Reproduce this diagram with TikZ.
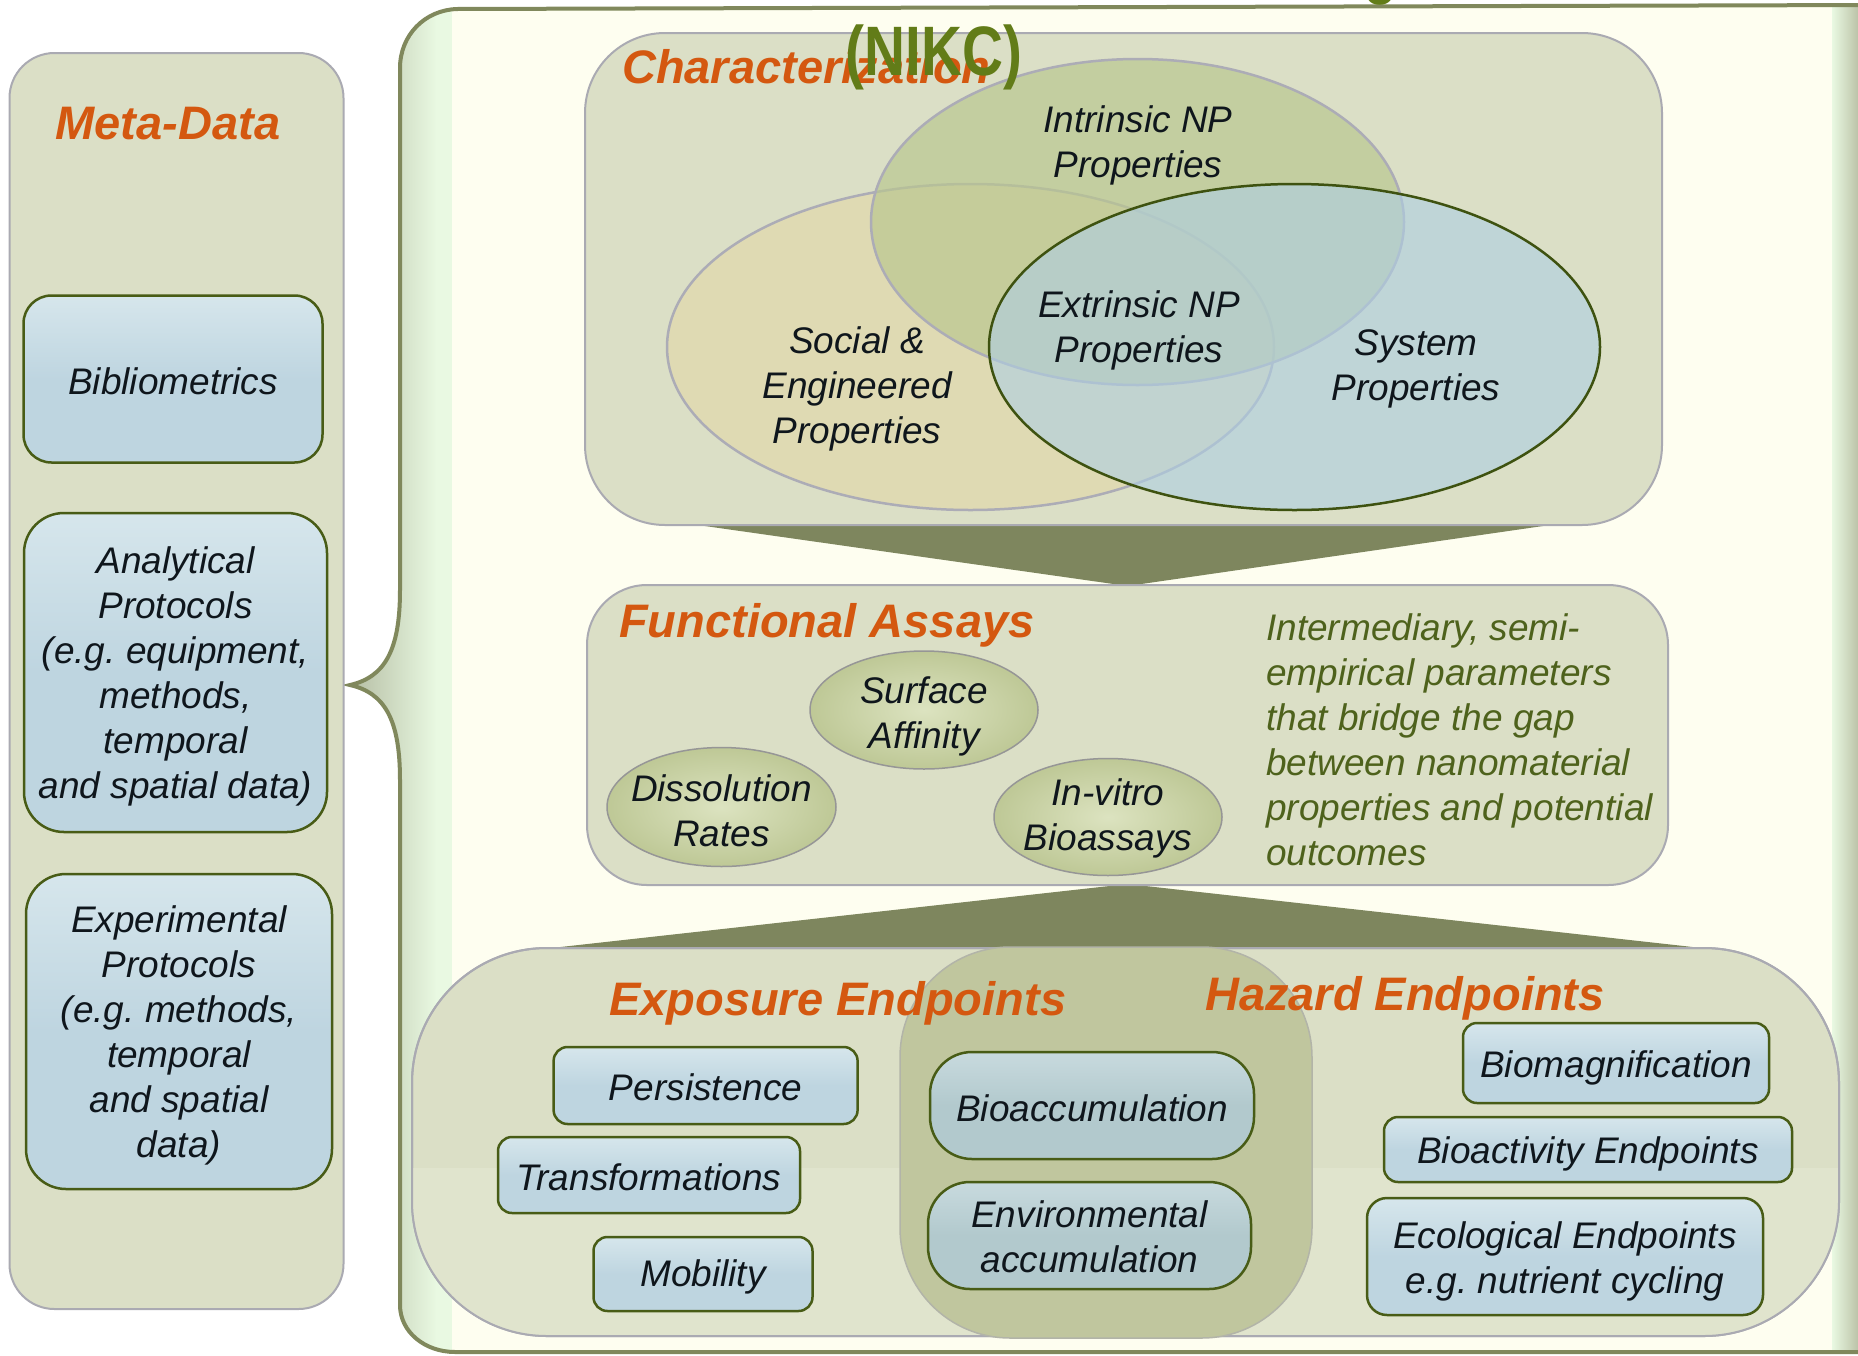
\documentclass[tikz,border=0pt]{standalone}
\usepackage{fontspec}
\usepackage{graphicx}
\setmainfont{Liberation Sans}
\frenchspacing
\usetikzlibrary{shapes.geometric,calc}
\definecolor{orng}{RGB}{212,88,16}
\definecolor{nikc}{RGB}{98,124,24}
\definecolor{desc}{RGB}{78,98,28}
\definecolor{txt}{RGB}{15,22,28}
\definecolor{panel}{RGB}{219,223,198}
\definecolor{panellow}{RGB}{224,228,205}
\definecolor{panelline}{RGB}{170,170,178}
\definecolor{boxblue}{RGB}{190,213,224}
\definecolor{boxhi}{RGB}{214,230,236}
\definecolor{bluedk}{RGB}{178,201,205}
\definecolor{bluedkhi}{RGB}{200,218,222}
\definecolor{boxline}{RGB}{72,92,22}
\definecolor{cream}{RGB}{254,254,240}
\definecolor{contline}{RGB}{128,136,92}
\definecolor{chev}{RGB}{126,134,94}
\definecolor{intr}{RGB}{186,199,144}
\definecolor{soc}{RGB}{226,216,172}
\definecolor{sys}{RGB}{175,207,227}
\definecolor{sysline}{RGB}{62,82,16}
\definecolor{vennline}{RGB}{172,172,182}
\definecolor{ellin}{RGB}{220,227,192}
\definecolor{ellout}{RGB}{190,200,150}
\definecolor{ellline}{RGB}{150,150,150}
\definecolor{pillc}{RGB}{192,198,158}
\definecolor{pillline}{RGB}{178,180,168}
\definecolor{bandgrey}{RGB}{178,186,160}
\definecolor{bandgreen}{RGB}{233,249,226}
\definecolor{rightgrey}{RGB}{188,195,168}
\newcommand\mybody{\fontsize{37}{45}\selectfont\itshape}
\newcommand\mytitle{\fontsize{47}{56}\selectfont\bfseries\itshape}
\newcommand\mynikc{\fontsize{70}{84}\selectfont\bfseries}
\newcommand\mycontpath{(455,1352) -- (1875,1352) -- (1875,5) -- (457,9) .. controls (425,10) and (400,35) .. (400,68) -- (400,590) .. controls (400,650) and (385,677) .. (350,685) .. controls (385,693) and (400,720) .. (400,780) -- (400,1305) .. controls (400,1332) and (425,1352) .. (455,1352) -- cycle}
\tikzset{
  panelbox/.style={draw=panelline, line width=2, fill=panel, inner sep=0},
  bluebox/.style={draw=boxline, line width=2.5, top color=boxhi, bottom color=boxblue, middle color=boxblue, rounded corners=14, inner sep=0},
  darkbox/.style={bluebox, top color=bluedkhi, bottom color=bluedk, middle color=bluedk, rounded corners=42},
  lbl/.style={font=\mybody, text=txt, align=center, inner sep=0},
  ttl/.style={font=\mytitle, text=orng, inner sep=0},
  vennell/.style={ellipse, inner sep=0, line width=2.5},
  smallell/.style={ellipse, inner sep=0, draw=ellline, line width=1.5, inner color=ellin, outer color=ellout},
  chevron/.style={fill=chev}
}
\begin{document}
\begin{tikzpicture}[x=1pt,y=-1pt]
\useasboundingbox (0,0) rectangle (1858,1355);
\fill[white] (0,0) rectangle (1858,1355);
% main container
\fill[cream] \mycontpath;
\begin{scope}
  \clip \mycontpath;
  \shade[left color=bandgrey, right color=bandgreen] (345,0) rectangle (437,1360);
  \fill[bandgreen] (436,0) rectangle (452,1360);
  \shade[left color=bandgreen, right color=rightgrey] (1832,0) rectangle (1858,1360);
\end{scope}
\draw[contline, line width=4] \mycontpath;

% meta-data panel
\node[panelbox, rounded corners=45, minimum width=334, minimum height=1256] (meta) at (176.5,681) {};
\node[ttl, anchor=base] (metat) at (168,139) {Meta-Data};
\node[bluebox, rounded corners=28, minimum width=299, minimum height=167] (biblio) at (173,379) {};
\node[lbl] (bibliot) at ($(biblio.center)+(0,2)$) {Bibliometrics};
\node[bluebox, rounded corners=40, minimum width=303, minimum height=319] (anal) at (175.5,672.5) {};
\node[lbl] (analt) at ($(anal.center)+(0,4)$) {Analytical\\Protocols\\(e.g. equipment,\\methods,\\temporal\\and spatial data)};
\node[bluebox, rounded corners=40, minimum width=306, minimum height=315] (exper) at (179,1031.5) {};
\node[lbl] (expert) at ($(exper.center)+(0,4)$) {Experimental\\Protocols\\(e.g. methods,\\temporal\\and spatial\\data)};

% panels (positions)
\coordinate (charc) at (1123.5,279);
\coordinate (funcc) at (1127.5,735);
\coordinate (endpc) at (1125.5,1142);

% chevrons
\path (charc) ++(0,246) coordinate (charS);
\path (funcc) ++(0,-150) coordinate (funcN);
\path (funcc) ++(0,150) coordinate (funcS);
\path (endpc) ++(0,-194) coordinate (endpN);
\fill[chevron] ($(charS)+(-468,-6)$) -- ($(charS)+(468,-6)$) -- ($(funcN)+(0,1)$) -- cycle;
\fill[chevron] ($(funcS)+(0,-1)$) -- ($(endpN)+(594,2)$) -- ($(endpN)+(-592,2)$) -- cycle;

% characterization
\node[panelbox, rounded corners=80, minimum width=1077, minimum height=492] (char) at (charc) {};
\node[vennell, fill=soc, fill opacity=0.7, draw=vennline, minimum width=607, minimum height=326] (soce) at (970.5,347) {};
\node[vennell, fill=intr, fill opacity=0.7, draw=vennline, minimum width=533, minimum height=326] (intre) at (1137.5,222) {};
\node[vennell, fill=sys, fill opacity=0.62, draw=sysline, minimum width=611, minimum height=326] (syse) at (1294.5,347) {};
\node[lbl] (intrt) at (1138,145) {Intrinsic NP\\Properties};
\node[lbl] (extrt) at (1139,330) {Extrinsic NP\\Properties};
\node[lbl] (soct) at (857,389) {Social \&\\Engineered\\Properties};
\node[lbl] (syst) at (1416,369) {System\\Properties};
\node[ttl, anchor=base west] (chart) at (622,83) {Characterization};

% functional assays
\node[panelbox, rounded corners=60, minimum width=1081, minimum height=300] (func) at (funcc) {};
\node[ttl, anchor=base west] (funct) at (619,637) {Functional Assays};
\node[smallell, minimum width=228, minimum height=118] (surf) at (924,710) {};
\node[lbl] (surft) at ($(surf.center)+(0,6)$) {Surface\\Affinity};
\node[smallell, minimum width=229, minimum height=119] (diss) at (721.5,807) {};
\node[lbl] (disst) at ($(diss.center)+(0,4)$) {Dissolution\\Rates};
\node[smallell, minimum width=228, minimum height=117] (invit) at (1108,817) {};
\node[lbl] (invitt) at ($(invit.center)+(0,1)$) {In-vitro\\Bioassays};
\node[font=\mybody, text=desc, align=left, anchor=west, inner sep=0] (descr) at (1266,740) {Intermediary, semi-\\empirical parameters\\that bridge the gap\\between nanomaterial\\properties and potential\\outcomes};

% endpoints
\node[panelbox, rounded corners=135, minimum width=1427, minimum height=388] (endp) at (endpc) {};
\begin{scope}
  \clip[rounded corners=135] (412,948) rectangle (1839,1336);
  \fill[panellow] (405,1168) rectangle (1845,1345);
\end{scope}
\draw[panelline, line width=2, rounded corners=135] (412,948) rectangle (1839,1336);
\node[draw=pillline, line width=1.5, fill=pillc, rounded corners=110, minimum width=412, minimum height=391, inner sep=0] (pill) at (1106,1142.5) {};
\node[ttl, anchor=base west] (expt) at (609,1015) {Exposure Endpoints};
\node[ttl, anchor=base west] (hazt) at (1205,1010) {Hazard Endpoints};
\node[bluebox, minimum width=304, minimum height=77] (pers) at (705.6,1085.5) {};
\node[lbl] (perst) at ($(pers.center)+(0,2)$) {Persistence};
\node[bluebox, minimum width=302, minimum height=76] (trans) at (649,1175) {};
\node[lbl] (transt) at ($(trans.center)+(0,2)$) {Transformations};
\node[bluebox, minimum width=219, minimum height=74] (mob) at (703,1274) {};
\node[lbl] (mobt) at ($(mob.center)+(0,3)$) {Mobility};
\node[darkbox, minimum width=324, minimum height=107] (bioacc) at (1092,1105.5) {};
\node[lbl] (bioacct) at ($(bioacc.center)+(0,3)$) {Bioaccumulation};
\node[darkbox, minimum width=323, minimum height=107] (envacc) at (1089.5,1235.5) {};
\node[lbl] (envacct) at ($(envacc.center)+(0,1)$) {Environmental\\accumulation};
\node[bluebox, minimum width=306, minimum height=80] (biomag) at (1616,1063) {};
\node[lbl] (biomagt) at ($(biomag.center)+(0,5)$) {Biomagnification};
\node[bluebox, minimum width=408, minimum height=65] (bioact) at (1588,1149.5) {};
\node[lbl] (bioactt) at ($(bioact.center)+(0,4)$) {Bioactivity Endpoints};
\node[bluebox, rounded corners=20, minimum width=396, minimum height=117] (ecol) at (1565,1256.5) {};
\node[lbl] (ecolt) at ($(ecol.center)+(0,5)$) {Ecological Endpoints\\e.g. nutrient cycling};

% title fragments
\node[font=\mynikc, text=nikc, inner sep=0, anchor=base] (nikct) at (934,75) {\scalebox{0.81}[1]{(NIKC)}};
\node[font=\mynikc, text=nikc, inner sep=0, anchor=base] (gtail) at (1381,-10) {\scalebox{0.81}[1]{g}};
\end{tikzpicture}
\end{document}
